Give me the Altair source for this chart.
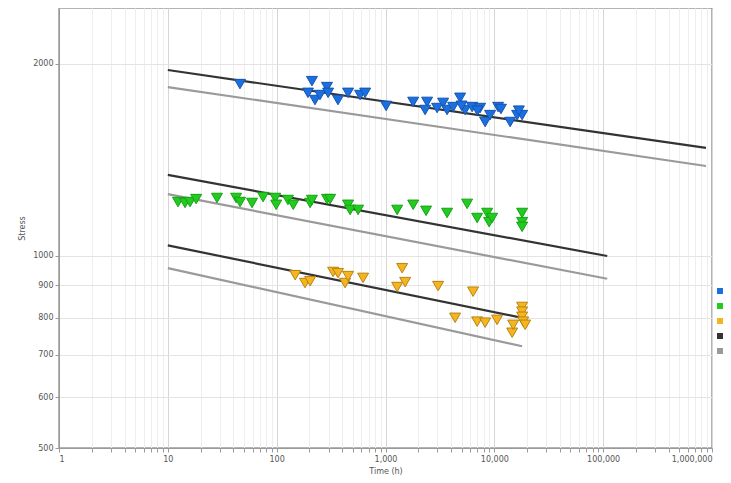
import altair as alt
import pandas as pd

# ---- data ----
blue_t = [46, 211, 194, 225, 250, 290, 297, 366, 453, 584, 650, 1013, 1796, 2411, 2312,
          2980, 3383, 3682, 4180, 4850, 5390, 6250, 7400, 8230, 9150, 10830, 13970, 16200,
          18000, 5000, 7000, 11500, 16800]
blue_s = [1860, 1880, 1802, 1756, 1788, 1840, 1802, 1756, 1802, 1788, 1802, 1719, 1744, 1744, 1694,
          1706, 1738, 1694, 1712, 1770, 1694, 1712, 1706, 1622, 1663, 1712, 1622, 1663,
          1663, 1720, 1690, 1700, 1690]

green_t = [12.4, 14.4, 16.0, 18.2, 28.3, 42.4, 46.1, 59.4, 75, 97, 99, 127, 142, 203, 211, 290,
           310, 453, 473, 560, 1280, 1796, 2360, 3680, 5620, 6950, 8590, 8960, 9550, 18000, 18000, 18000]
green_s = [1215, 1211, 1215, 1228, 1233, 1233, 1215, 1211, 1237, 1233, 1203, 1224, 1203, 1211, 1224, 1228,
           1228, 1203, 1181, 1181, 1181, 1203, 1177, 1168, 1207, 1147, 1168, 1130, 1147, 1168, 1130, 1111]

orange_t = [148, 182, 203, 330, 366, 425, 453, 622, 1280, 1422, 1515, 3043, 4360, 6380, 6950,
            8230, 10600, 14580, 14900, 18000, 18000, 18000, 18400, 19200]
orange_s = [933, 907, 913, 944, 940, 907, 930, 924, 894, 957, 910, 897, 800, 879, 789,
            786, 794, 758, 780, 832, 818, 803, 789, 780]

# fitted curves: (start time, start stress, end time, end stress)
line_group = ["A", "A", "B", "B", "C", "C"]
line_kind = ["Mean curve", "Lower bound", "Mean curve", "Lower bound", "Mean curve", "Lower bound"]
line_t0 = [10, 10, 10, 10, 10, 10]
line_s0 = [1957, 1840, 1340, 1250, 1039, 957]
line_t1 = [880000, 880000, 109000, 109000, 18000, 18000]
line_s1 = [1477, 1384, 1000, 921, 800, 722]

series_names = ["Series A", "Series B", "Series C", "Mean curve", "Lower bound"]
series_fill = ["#1c6fe0", "#22cc1e", "#f5b521", "#333333", "#9a9a9a"]
series_edge = ["#1455b0", "#16a016", "#b88410", "#333333", "#9a9a9a"]

x_ticks = [m * 10 ** e for e in range(0, 6) for m in range(1, 10)] + [1000000]
y_ticks = [500, 600, 700, 800, 900, 1000, 2000]

# ---- tables ----
pts = pd.concat([
    pd.DataFrame({"t": blue_t, "s": blue_s, "series": "Series A"}),
    pd.DataFrame({"t": green_t, "s": green_s, "series": "Series B"}),
    pd.DataFrame({"t": orange_t, "s": orange_s, "series": "Series C"}),
], ignore_index=True)

rows = []
for i in range(len(line_group)):
    lid = f"{line_group[i]}-{line_kind[i]}"
    rows.append({"t": line_t0[i], "s": line_s0[i], "series": line_kind[i], "lid": lid})
    rows.append({"t": line_t1[i], "s": line_s1[i], "series": line_kind[i], "lid": lid})
lines = pd.DataFrame(rows)

decades = "[1,10,100,1000,10000,100000,1000000]"

x_enc = alt.X("t:Q", title="Time (h)",
              scale=alt.Scale(type="log", domain=[1, 1000000], nice=False),
              axis=alt.Axis(values=x_ticks,
                            labelExpr=f"indexof({decades}, datum.value) >= 0 ? format(datum.value, ',') : ''",
                            gridColor={"condition": {"test": f"indexof({decades}, datum.value) >= 0",
                                                     "value": "#d6d6d6"},
                                       "value": "#eeeeee"},
                            tickSize=4, labelPadding=3, titlePadding=4))
y_enc = alt.Y("s:Q", title="Stress",
              scale=alt.Scale(type="log", domain=[500, 2448], nice=False),
              axis=alt.Axis(values=y_ticks, format="d", tickSize=4, titlePadding=6,
                            gridColor="#e4e4e4"))

color_scale = alt.Scale(domain=series_names, range=series_fill)

line_layer = alt.Chart(lines).mark_line(strokeWidth=2.2).encode(
    x=x_enc, y=y_enc,
    color=alt.Color("series:N", scale=color_scale,
                    legend=alt.Legend(title=None, orient="none", legendX=656, legendY=278,
                                      symbolType="square", symbolSize=20, symbolOpacity=0.8,
                                      labelExpr="''", labelFontSize=10, rowPadding=3, padding=0)),
    detail="lid:N",
)

point_layer = alt.Chart(pts).mark_point(shape="triangle-down", filled=True, size=120,
                                        opacity=1, strokeWidth=1).encode(
    x=x_enc, y=y_enc,
    color=alt.Color("series:N", scale=color_scale),
    stroke=alt.Stroke("series:N", scale=alt.Scale(domain=series_names, range=series_edge), legend=None),
)

chart = alt.layer(line_layer, point_layer).properties(
    width=653, height=440,
    autosize=alt.AutoSizeParams(type="none"),
    padding={"left": 51, "top": 0, "right": 11, "bottom": 27},
).configure_view(stroke="#9a9a9a", strokeWidth=1.5).configure_axis(
    labelFont="DejaVu Sans", labelFontSize=8, labelColor="#555555",
    titleFont="DejaVu Sans", titleFontSize=8, titleFontWeight="normal", titleColor="#555555",
    domainColor="#9a9a9a", tickColor="#9a9a9a",
).configure_legend(labelFont="DejaVu Sans", labelColor="#555555")

chart.save("out.html", embed_options={"renderer": "svg", "actions": False})
